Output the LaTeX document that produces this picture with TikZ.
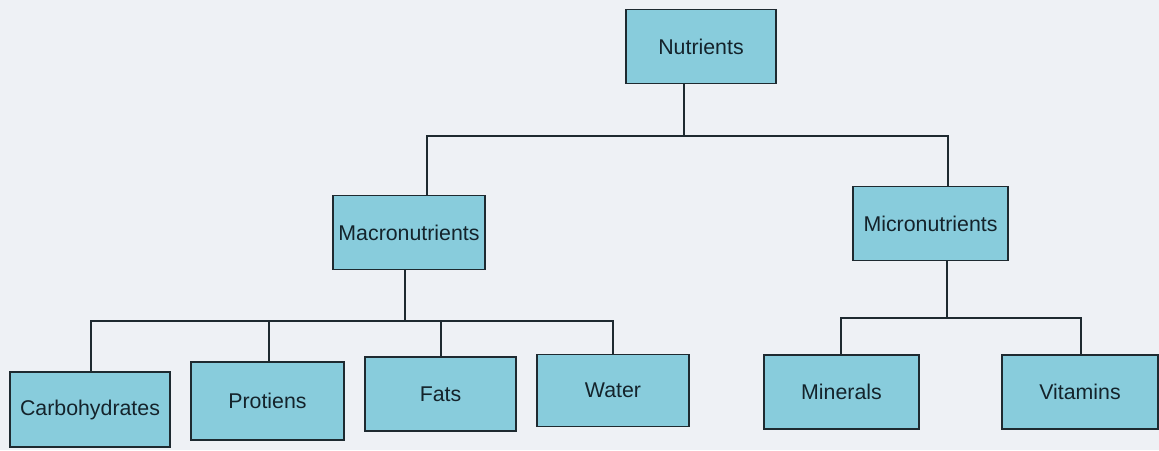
\documentclass[tikz,border=0pt]{standalone}
\usepackage{fontspec}
\setmainfont{Liberation Sans}
\definecolor{paper}{HTML}{EEF1F5}
\definecolor{boxfill}{HTML}{88CCDC}
\definecolor{boxline}{HTML}{1E2A30}
\definecolor{ink}{HTML}{14232B}
\tikzset{
  nbox/.style={draw=boxline, line width=1.2pt, fill=boxfill, text=ink,
    font=\fontsize{16}{19}\selectfont, minimum width=#1*0.75pt, minimum height=74*0.75pt,
    inner sep=0pt, anchor=center},
  nbox/.default=152,
  link/.style={draw=boxline, line width=1.1pt}
}
\begin{document}
\begin{tikzpicture}[x=0.75pt,y=-0.75pt]
\fill[paper] (0,0) rectangle (1159,450);
\useasboundingbox (0,0) rectangle (1159,450);
\node[nbox=150] (nut) at (701,46.5) {Nutrients};
\node[nbox=152] (mac) at (409,232.5) {Macronutrients};
\node[nbox=155] (mic) at (930.5,223.5) {Micronutrients};
\node[nbox=160, minimum height=75*0.75pt] (carb) at (90,409.5) {Carbohydrates};
\node[nbox=153, minimum height=78*0.75pt] (prot) at (267.5,401) {Protiens};
\node[nbox=151] (fats) at (440.5,394) {Fats};
\node[nbox=152, minimum height=72*0.75pt] (water) at (613,390.5) {Water};
\node[nbox=155] (min) at (841.5,392) {Minerals};
\node[nbox=156] (vit) at (1080,392) {Vitamins};
% level 1
\draw[link] (nut.south -| 684,0) -- (684,136) -| (mac.north -| 427,0);
\draw[link] (684,136) -| (mic.north -| 948,0);
% macronutrients
\draw[link] (mac.south -| 405,0) -- (405,321);
\draw[link] (carb.north -| 91,0) |- (613,321) -- (water.north -| 613,0);
\draw[link] (269,321) -- (prot.north -| 269,0);
\draw[link] (441,321) -- (fats.north -| 441,0);
% micronutrients
\draw[link] (mic.south -| 947,0) -- (947,318);
\draw[link] (min.north -| 841,0) |- (1081,318) -- (vit.north -| 1081,0);
\end{tikzpicture}
\end{document}
